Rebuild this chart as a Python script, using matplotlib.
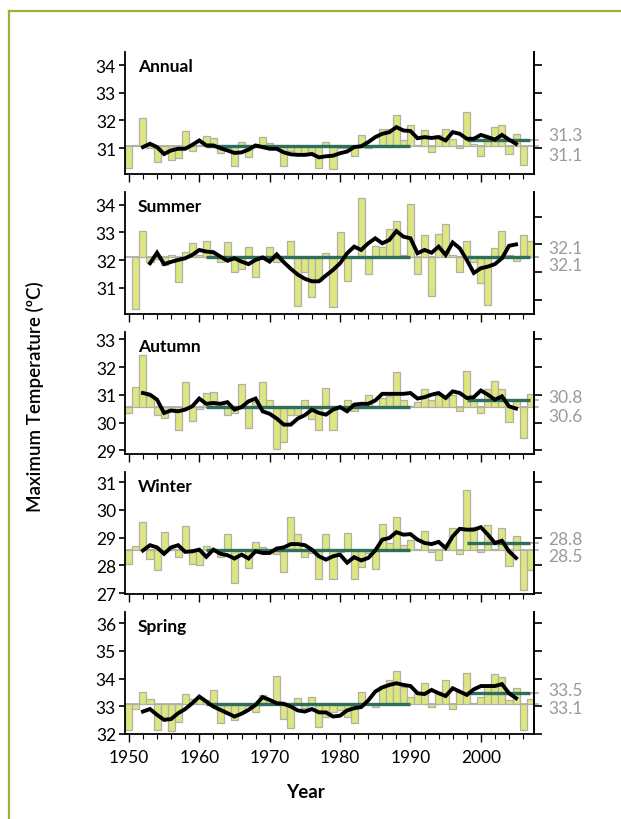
#!/usr/bin/env python3

import numpy as np
import matplotlib
matplotlib.use('Agg')
import matplotlib.pyplot as plt
from matplotlib.lines import Line2D

plt.rcParams['font.family'] = ['Lato', 'DejaVu Sans']

# years of the bars and of the running mean
years = np.arange(1950, 2008)
smooth_years = np.arange(1952, 2006)

seasons = ['Annual', 'Summer', 'Autumn', 'Winter', 'Spring']

annual = [30.27, 31.12, 32.09, 31.00, 30.50, 30.90, 30.58, 30.65, 31.63, 30.90,
          31.10, 31.43, 31.36, 30.82, 31.00, 30.37, 31.22, 30.69, 31.10, 31.40,
          31.19, 31.00, 30.35, 30.90, 30.80, 30.80, 30.85, 30.29, 31.22, 30.25,
          31.00, 31.00, 30.71, 31.46, 31.00, 31.10, 31.70, 31.68, 32.19, 31.31,
          31.85, 31.10, 31.64, 30.85, 31.46, 31.70, 31.34, 31.00, 32.31, 31.16,
          30.71, 31.36, 31.76, 31.82, 30.79, 31.52, 30.41, np.nan]
summer = [np.nan, 30.23, 33.05, 31.95, 32.05, 31.81, 32.20, 31.23, 32.31, 32.61,
          32.20, 32.69, 32.25, 31.93, 32.64, 31.56, 31.69, 32.49, 31.38, 32.05,
          32.48, 31.95, 32.15, 32.69, 30.35, 31.56, 30.68, 31.24, 32.26, 30.31,
          33.00, 31.24, 32.10, 34.24, 31.50, 32.51, 32.49, 33.11, 33.40, 32.20,
          34.04, 31.52, 32.90, 30.70, 32.96, 33.32, 32.20, 31.56, 32.69, 31.92,
          31.17, 30.38, 32.43, 33.05, 32.20, 31.98, 32.90, 32.69]
autumn = [30.34, 31.30, 32.44, 30.95, 30.26, 30.17, 30.45, 29.75, 31.48, 30.05,
          30.50, 31.08, 31.12, 30.70, 30.27, 30.35, 31.40, 29.79, 30.75, 31.48,
          30.83, 29.04, 29.30, 30.27, 30.29, 30.83, 30.15, 29.75, 31.25, 29.73,
          30.55, 30.83, 30.41, 30.70, 31.01, 30.60, 30.89, 30.95, 31.83, 30.80,
          30.60, 30.74, 31.22, 30.83, 30.99, 30.89, 31.01, 30.41, 31.87, 30.83,
          30.35, 31.23, 31.49, 31.22, 30.03, 30.77, 29.46, 31.04]
winter = [28.05, 28.70, 29.56, 28.25, 27.85, 29.20, 28.60, 28.32, 29.44, 28.05,
          28.00, 28.70, 28.60, 28.29, 29.15, 27.36, 28.60, 27.89, 28.85, 28.68,
          28.50, 28.40, 27.75, 29.75, 29.14, 28.32, 28.45, 27.51, 29.14, 27.51,
          28.50, 29.17, 27.50, 27.95, 28.45, 27.88, 29.50, 28.81, 29.74, 28.75,
          28.93, 28.60, 29.25, 28.50, 28.18, 28.70, 29.35, 28.40, 30.71, 29.37,
          28.49, 29.46, 28.60, 29.35, 27.99, 29.05, 27.12, 27.83]
spring = [32.16, 32.91, 33.53, 33.25, 32.16, 32.57, 32.12, 32.43, 33.44, 33.25,
          33.35, 33.23, 33.59, 32.39, 32.81, 32.51, 32.75, 33.00, 32.78, 33.39,
          33.23, 34.10, 32.54, 32.21, 33.29, 32.93, 33.33, 32.25, 32.63, 32.81,
          32.87, 32.61, 32.39, 33.53, 33.10, 32.97, 33.73, 33.95, 34.27, 33.68,
          33.35, 33.47, 33.85, 32.99, 33.53, 33.95, 32.90, 33.53, 34.20, 33.10,
          33.33, 33.77, 34.15, 34.07, 33.21, 33.67, 32.13, 33.25]

# running means 1952-2005
annual_smooth = [31.04, 31.16, 31.04, 30.79, 30.92, 30.98, 30.98, 31.12, 31.28, 31.10,
                 31.10, 31.00, 30.92, 30.83, 30.85, 30.95, 31.10, 31.04, 30.98, 30.98,
                 30.85, 30.78, 30.76, 30.76, 30.79, 30.67, 30.71, 30.73, 30.82, 30.88,
                 31.04, 31.07, 31.22, 31.40, 31.52, 31.58, 31.76, 31.64, 31.62, 31.36,
                 31.40, 31.37, 31.40, 31.28, 31.58, 31.52, 31.34, 31.34, 31.48, 31.40,
                 31.31, 31.48, 31.31, 31.16]
summer_smooth = [np.nan, 31.89, 32.27, 31.86, 31.94, 32.01, 32.07, 32.19, 32.37, 32.31,
                 32.29, 32.13, 31.98, 32.07, 31.95, 31.86, 32.01, 32.10, 31.95, 32.21,
                 31.93, 31.69, 31.48, 31.33, 31.24, 31.24, 31.45, 31.65, 31.89, 32.25,
                 32.49, 32.37, 32.61, 32.79, 32.61, 32.73, 33.05, 32.85, 32.79, 32.25,
                 32.37, 32.27, 32.49, 32.19, 32.64, 32.43, 32.01, 31.54, 31.71, 31.77,
                 31.86, 32.07, 32.52, 32.57]
autumn_smooth = [31.07, 31.01, 30.83, 30.35, 30.44, 30.41, 30.47, 30.59, 30.87, 30.68,
                 30.71, 30.68, 30.74, 30.47, 30.56, 30.77, 30.87, 30.41, 30.32, 30.15,
                 29.93, 29.93, 30.15, 30.27, 30.47, 30.35, 30.29, 30.47, 30.56, 30.41,
                 30.65, 30.68, 30.68, 30.80, 31.04, 31.04, 31.04, 31.04, 31.07, 30.87,
                 30.92, 31.01, 31.07, 30.89, 31.13, 31.07, 30.89, 30.92, 31.16, 31.01,
                 30.83, 30.95, 30.59, 30.51]
winter_smooth = [28.54, 28.73, 28.65, 28.42, 28.65, 28.73, 28.49, 28.51, 28.57, 28.31,
                 28.57, 28.42, 28.37, 28.25, 28.39, 28.25, 28.51, 28.45, 28.45, 28.61,
                 28.65, 28.77, 28.77, 28.73, 28.57, 28.33, 28.21, 28.33, 28.39, 28.10,
                 28.30, 28.18, 28.27, 28.54, 28.93, 28.99, 29.20, 29.11, 29.13, 28.93,
                 28.81, 28.77, 28.85, 28.63, 29.05, 29.32, 29.29, 29.29, 29.38, 29.11,
                 28.81, 28.89, 28.51, 28.27]
spring_smooth = [32.81, 32.90, 32.69, 32.51, 32.54, 32.75, 32.90, 33.11, 33.35, 33.17,
                 32.99, 32.87, 32.75, 32.63, 32.73, 32.87, 33.05, 33.33, 33.23, 33.11,
                 33.09, 32.99, 32.85, 32.81, 32.90, 32.78, 32.78, 32.63, 32.66, 32.85,
                 32.93, 32.97, 33.21, 33.53, 33.68, 33.77, 33.83, 33.77, 33.73, 33.47,
                 33.44, 33.59, 33.47, 33.37, 33.65, 33.53, 33.41, 33.61, 33.73, 33.73,
                 33.73, 33.80, 33.47, 33.29]

# 1961-1990 mean and 1998-2007 mean
base_mean = [31.07, 32.13, 30.58, 28.55, 33.07]
recent_mean = [31.31, 32.13, 30.83, 28.82, 33.49]
base_label = ['31.1', '32.1', '30.6', '28.5', '33.1']
recent_label = ['31.3', '32.1', '30.8', '28.8', '33.5']
base_period = (1961, 1990)
recent_period = (1998, 2007)

left_ticks = [[31, 32, 33, 34], [31, 32, 33, 34], [29, 30, 31, 32, 33],
              [27, 28, 29, 30, 31], [32, 33, 34, 35, 36]]
right_ticks = [[31, 32, 33, 34], [30.57, 31.57, 32.57, 33.57], [29, 30, 31, 32, 33],
               [27, 28, 29, 30, 31], [32, 33, 34, 35, 36]]
y_bottom = [30.07, 30.06, 28.87, 26.97, 32.0]

bars = [annual, summer, autumn, winter, spring]
smooth = [annual_smooth, summer_smooth, autumn_smooth, winter_smooth, spring_smooth]

BAR_FILL = '#dde681'
BAR_EDGE = '#b0b0a8'
MEAN_GREEN = '#2f6e5c'
GREY = '#a8a8a8'
FRAME = '#9fae3c'

fig = plt.figure(figsize=(6.21, 8.2), dpi=100)

# olive frame round the figure
fig.add_artist(Line2D([9 / 621, 1], [1 - 12 / 820] * 2, color=FRAME, lw=1.6))
fig.add_artist(Line2D([9 / 621] * 2, [0, 1 - 12 / 820], color=FRAME, lw=1.6))

for i, season in enumerate(seasons):
    top = 53 + 140 * i
    ax = fig.add_axes([125 / 621, 1 - (top + 122) / 820, 409 / 621, 122 / 820])
    base = base_mean[i]
    vals = np.array(bars[i])

    ax.axhline(base, xmin=0, xmax=1.01, color=GREY, lw=1.2, zorder=1, clip_on=False)
    ax.bar(years, vals - base, bottom=base, width=1.0, color=BAR_FILL,
           edgecolor=BAR_EDGE, linewidth=0.9, zorder=2)
    ax.plot(base_period, [base] * 2, color=MEAN_GREEN, lw=2.4,
            solid_capstyle='butt', zorder=3)
    ax.plot(recent_period, [recent_mean[i]] * 2, color=MEAN_GREEN, lw=2.4,
            solid_capstyle='butt', zorder=3)
    ax.axhline(recent_mean[i], xmin=0.99, xmax=1.01, color=GREY, lw=1.2,
               zorder=1, clip_on=False)
    ax.plot(smooth_years, smooth[i], color='black', lw=2.8,
            solid_joinstyle='miter', zorder=4)

    ax.set_xlim(1949.45, 2007.55)
    ax.set_ylim(y_bottom[i], y_bottom[i] + 4.4)
    ax.set_yticks(left_ticks[i])
    ax.set_yticklabels([str(t) for t in left_ticks[i]])
    ax.set_xticks(np.arange(1950, 2001, 10))
    ax.set_xticks(np.arange(1950, 2007, 2), minor=True)

    ax.spines['top'].set_visible(False)
    for side in ['left', 'bottom', 'right']:
        ax.spines[side].set_linewidth(1.3)
    ax.tick_params(axis='y', direction='out', length=4.5, width=1.2,
                   labelsize=12.5, pad=2, colors='black')
    ax.tick_params(axis='x', which='major', direction='out', length=6,
                   width=1.0, labelsize=12.5, pad=5)
    ax.tick_params(axis='x', which='minor', direction='out', length=3.5,
                   width=0.8)
    if i < len(seasons) - 1:
        ax.tick_params(axis='x', labelbottom=False)

    ax2 = ax.twinx()
    ax2.set_ylim(ax.get_ylim())
    ax2.set_yticks(right_ticks[i])
    ax2.tick_params(axis='y', direction='out', length=6, width=1.2,
                    labelright=False)
    for side in ['top', 'left', 'bottom']:
        ax2.spines[side].set_visible(False)
    ax2.spines['right'].set_linewidth(1.2)

    ax.text(0.032, 0.885, season, transform=ax.transAxes, fontsize=12.5,
            fontweight='bold', va='center', ha='left')

    # grey labels of the two means at the right
    offs = [(3, -6), (6, -6), (2, -7), (3, -4), (2, -3)][i]
    ax.annotate(recent_label[i], xy=(1, recent_mean[i]),
                xycoords=('axes fraction', 'data'), xytext=(10, offs[0]),
                textcoords='offset points', va='center', ha='left',
                fontsize=12.5, color='#9a9a9a', annotation_clip=False)
    ax.annotate(base_label[i], xy=(1, base), xycoords=('axes fraction', 'data'),
                xytext=(10, offs[1]), textcoords='offset points', va='center',
                ha='left', fontsize=12.5, color='#9a9a9a', annotation_clip=False)

fig.text(35 / 621, 1 - 397 / 820, 'Maximum Temperature (ºC)', rotation=90,
         ha='center', va='center', fontsize=13.5, fontweight='semibold')
fig.text(305 / 621, 1 - 793 / 820, 'Year', ha='center', va='center',
         fontsize=13.5, fontweight='bold')

plt.savefig('out.png', dpi=100)
plt.close()
